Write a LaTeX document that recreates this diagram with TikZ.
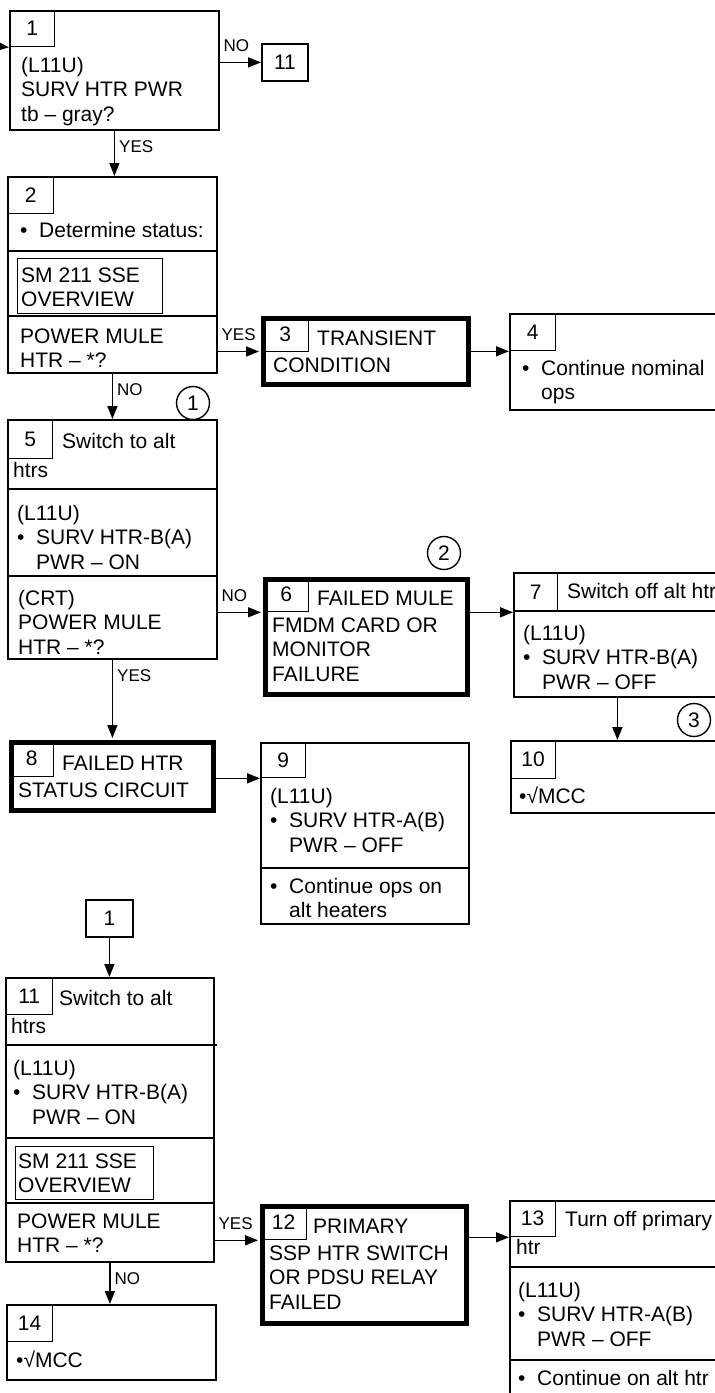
\documentclass[tikz,border=0pt]{standalone}
\usepackage{fontspec}
\setmainfont{Liberation Sans}
\usetikzlibrary{arrows.meta}
\newcommand\boxfont{\fontsize{21}{24.5}\selectfont}
\newcommand\labfont{\fontsize{17}{18}\selectfont}
\newcommand\fl{\rule{0pt}{17pt}}
\newcommand\hbul{\makebox[19pt][l]{•}}
\newcommand\hind{\hspace*{19pt}}

\begin{document}
\begin{tikzpicture}[
  x=1pt, y=-1pt,
  font=\boxfont,
  box/.style={draw, line width=1.8pt, anchor=north west, inner sep=0pt},
  thickbox/.style={box, line width=5pt},
  numcell/.style={draw, line width=1.3pt, anchor=north west, inner sep=0pt},
  txt/.style={anchor=base west, inner sep=0pt},
  blk/.style={anchor=north west, align=left, inner sep=0pt, yshift=17pt},
  divider/.style={line width=1.8pt},
  refmark/.style={circle, draw, line width=1.4pt, minimum size=33pt, inner sep=0pt},
  arr/.style={-{Triangle[length=13pt, width=10pt]}, line width=1.6pt},
  hlab/.style={font=\labfont, anchor=base west, pos=0, xshift=3pt, yshift=11pt, inner sep=0pt},
  vlab/.style={font=\labfont, anchor=north west, pos=0, xshift=4pt, yshift=-9pt, inner sep=0pt}
]
\clip (0,0) rectangle (715,1393);

% Step 1: entry check
\coordinate (in1) at (-5,46);
\node[box, minimum width=209pt, minimum height=119pt] (b1) at (9,10) {};
\node[numcell, minimum width=45pt, minimum height=36pt] (n1) at (9,10) {1};
\node[blk] (t1) at (21,72) {\fl(L11U)\\SURV HTR PWR\\tb – gray?};
\node[box, minimum width=46pt, minimum height=37pt] (g11) at (261,43) {11};

% Step 2: status
\node[box, minimum width=209pt, minimum height=196pt] (b2) at (7,176) {};
\node[numcell, minimum width=46pt, minimum height=37pt] (n2) at (7,176) {2};
\node[txt] (t2a) at (20,237) {\hbul Determine status:};
\draw[divider] (7,251) -- (216,251);
\node[numcell, minimum width=145pt, minimum height=55pt] (s2) at (17,258) {};
\node[blk] (t2b) at (21,282) {\fl SM 211 SSE\\OVERVIEW};
\draw[divider] (7,316) -- (216,316);
\node[blk] (t2c) at (20,343) {\fl POWER MULE\\HTR – *?};

% Steps 3 and 4
\node[thickbox, minimum width=205pt, minimum height=66pt] (b3) at (261,316) {};
\node[numcell, minimum width=47pt, minimum height=35pt] (n3) at (261,316) {3};
\node[txt] (t3a) at (317,345) {TRANSIENT};
\node[txt] (t3b) at (273,372) {CONDITION};
\node[box, minimum width=211pt, minimum height=96pt] (b4) at (509,313) {};
\node[numcell, minimum width=46pt, minimum height=37pt] (n4) at (509,313) {4};
\node[blk] (t4) at (522,375) {\fl\hbul Continue nominal\\\hind ops};

% Step 5: alt heaters
\node[refmark] (c1) at (193,403) {1};
\node[box, minimum width=209pt, minimum height=239pt] (b5) at (7,419) {};
\node[numcell, minimum width=45pt, minimum height=39pt] (n5) at (7,419) {5};
\node[txt] (t5a) at (62,448) {Switch to alt};
\node[txt] (t5b) at (13,477) {htrs};
\draw[divider] (7,489) -- (216,489);
\node[blk] (t5c) at (17,520) {\fl(L11U)\\\hbul SURV HTR-B(A)\\\hind PWR – ON};
\draw[divider] (7,576) -- (216,576);
\node[blk] (t5d) at (18,605) {\fl(CRT)\\POWER MULE\\HTR – *?};

% Steps 6 and 7
\node[refmark] (c2) at (444,553) {2};
\node[thickbox, minimum width=202pt, minimum height=115pt] (b6) at (263,577) {};
\node[numcell, minimum width=45pt, minimum height=34pt] (n6) at (263,577) {6};
\node[txt] (t6a) at (317,605) {FAILED MULE};
\node[blk] (t6b) at (272,632) {\fl FMDM CARD OR\\MONITOR\\FAILURE};
\node[box, minimum width=207pt, minimum height=124pt] (b7) at (513,572) {};
\node[numcell, minimum width=44pt, minimum height=39pt] (n7) at (513,572) {7};
\node[txt] (t7a) at (567,598) {Switch off alt htr};
\draw[divider] (513,611) -- (720,611);
\node[blk] (t7b) at (523,640) {\fl(L11U)\\\hbul SURV HTR-B(A)\\\hind PWR – OFF};

% Steps 8, 9 and 10
\node[thickbox, minimum width=202pt, minimum height=68pt] (b8) at (9,740) {};
\node[numcell, minimum width=44pt, minimum height=36pt] (n8) at (9,740) {8};
\node[txt] (t8a) at (62,770) {FAILED HTR};
\node[txt] (t8b) at (18,797) {STATUS CIRCUIT};
\node[box, minimum width=208pt, minimum height=181pt] (b9) at (260,742) {};
\node[numcell, minimum width=45pt, minimum height=35pt] (n9) at (260,742) {9};
\node[blk] (t9a) at (270,803) {\fl(L11U)\\\hbul SURV HTR-A(B)\\\hind PWR – OFF};
\draw[divider] (260,868) -- (468,868);
\node[blk] (t9b) at (270,893) {\fl\hbul Continue ops on\\\hind alt heaters};
\node[refmark] (c3) at (694,720) {3};
\node[box, minimum width=210pt, minimum height=72pt] (b10) at (510,740) {};
\node[numcell, minimum width=45pt, minimum height=38pt] (n10) at (510,740) {10};
\node[txt] (t10) at (519,803) {•√MCC};

% Step 11: reached from step 1
\node[box, minimum width=47pt, minimum height=37pt] (g1) at (85,899) {1};
\node[box, minimum width=208pt, minimum height=284pt] (b11) at (5,977) {};
\node[numcell, minimum width=47pt, minimum height=37pt] (n11) at (5,977) {11};
\node[txt] (t11a) at (59,1005) {Switch to alt};
\node[txt] (t11b) at (11,1033) {htrs};
\draw[divider] (5,1045) -- (217,1045);
\node[blk] (t11c) at (13,1075) {\fl(L11U)\\\hbul SURV HTR-B(A)\\\hind PWR – ON};
\draw[divider] (5,1138) -- (213,1138);
\node[numcell, minimum width=138pt, minimum height=53pt] (s11) at (15,1146) {};
\node[blk] (t11d) at (18,1168) {\fl SM 211 SSE\\OVERVIEW};
\draw[divider] (5,1203) -- (213,1203);
\node[blk] (t11e) at (17,1228) {\fl POWER MULE\\HTR – *?};

% Steps 12, 13 and 14
\node[thickbox, minimum width=204pt, minimum height=117pt] (b12) at (260,1204) {};
\node[numcell, minimum width=46pt, minimum height=35pt] (n12) at (260,1204) {12};
\node[txt] (t12a) at (313,1233) {PRIMARY};
\node[blk] (t12b) at (269,1260) {\fl SSP HTR SWITCH\\OR PDSU RELAY\\FAILED};
\node[box, minimum width=211pt, minimum height=210pt] (b13) at (509,1200) {};
\node[numcell, minimum width=46pt, minimum height=36pt] (n13) at (509,1200) {13};
\node[txt] (t13a) at (565,1226) {Turn off primary};
\node[txt] (t13b) at (516,1254) {htr};
\draw[divider] (509,1267) -- (720,1267);
\node[blk] (t13c) at (518,1297) {\fl(L11U)\\\hbul SURV HTR-A(B)\\\hind PWR – OFF};
\draw[divider] (509,1360) -- (720,1360);
\node[txt] (t13d) at (518,1385) {\hbul Continue on alt htr};
\node[box, minimum width=209pt, minimum height=75pt] (b14) at (6,1304) {};
\node[numcell, minimum width=46pt, minimum height=37pt] (n14) at (6,1304) {14};
\node[txt] (t14) at (16,1367) {•√MCC};

% Connectors
\draw[arr] (in1) -- (n1.south west);
\draw[arr] (b1.east |- g11.west) -- node[hlab] {NO} (g11.west);
\draw[arr] (b1.south) -- node[vlab] {YES} (b1.south |- b2.north);
\draw[arr, shorten >=2pt] (b2.east |- b3.west) -- node[hlab] {YES} (b3.west);
\draw[arr] (b3.east |- n4.south west) -- (n4.south west);
\draw[arr] (b2.south) -- node[vlab] {NO} (b2.south |- b5.north);
\draw[arr, shorten >=2pt] (b5.east |- n6.south west) -- node[hlab] {NO} (n6.south west);
\draw[arr] (b6.east |- n7.south west) -- (n7.south west);
\draw[arr] (b7.south) -- (b7.south |- b10.north);
\draw[arr, shorten >=2pt] (b5.south) -- node[vlab] {YES} (b5.south |- b8.north);
\draw[arr] (b8.east |- n9.south west) -- (n9.south west);
\draw[arr] (g1.south) -- (g1.south |- b11.north);
\draw[arr, shorten >=2pt] (b11.east |- n12.south west) -- node[hlab] {YES} (n12.south west);
\draw[arr] (b12.east |- n13.south west) -- (n13.south west);
\draw[arr] (b11.south) -- node[vlab] {NO} (b11.south |- b14.north);
\end{tikzpicture}
\end{document}
